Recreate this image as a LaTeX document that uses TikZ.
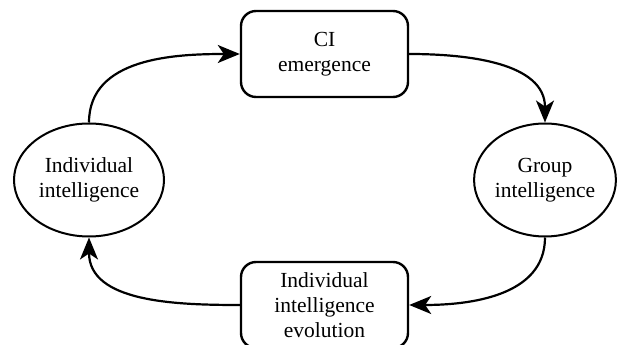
\documentclass[tikz,border=0pt]{standalone}
\usepackage{fontspec}
\setmainfont{Liberation Serif}
\usetikzlibrary{shapes.geometric, arrows.meta, positioning}

\begin{document}
\begin{tikzpicture}[x=1pt, y=1pt, >={Stealth[length=22pt, width=18pt, inset=6pt]},
  stage/.style={draw, line width=2.4pt, rounded corners=15pt, minimum width=167pt,
    minimum height=86pt, align=center, font=\fontsize{21.5}{25}\selectfont},
  level/.style={draw, ellipse, line width=2pt, align=center, inner sep=0pt,
    font=\fontsize{21.5}{25}\selectfont},
  flow/.style={->, line width=2.2pt}]
\useasboundingbox (0,0) rectangle (619,345);
\node[stage] (ci) at (324.5,291) {CI\\emergence};
\node[stage] (evo) at (324.5,40) {Individual\\intelligence\\evolution};
\node[level, minimum width=150pt, minimum height=113pt] (indiv) at (89,165) {Individual\\intelligence};
\node[level, minimum width=140pt, minimum height=113pt] (group) at (545,165) {Group\\intelligence};

\draw[flow] (indiv.north) to[out=90, in=180] (ci.west);
\draw[flow] (ci.east) to[out=0, in=90] (group.north);
\draw[flow] (group.south) to[out=-90, in=0] (evo.east);
\draw[flow] (evo.west) to[out=180, in=-90] (indiv.south);
\end{tikzpicture}
\end{document}
